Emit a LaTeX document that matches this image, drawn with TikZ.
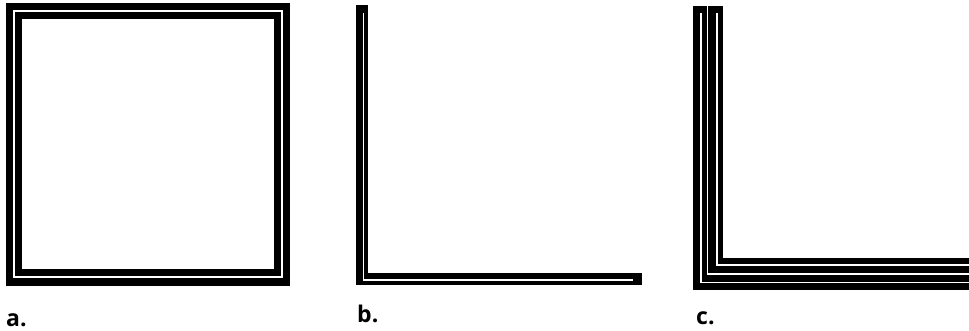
\documentclass[tikz,border=0pt]{standalone}
\usepackage{fontspec}
\setmainfont{Open Sans}
\begin{document}
\begin{tikzpicture}[x=1pt,y=-1pt,
  band/.style={draw=black,line width=#1,line join=miter,line cap=butt},
  band/.default=14.5pt,
  gapline/.style={draw=white,line width=1.8pt,line join=miter,line cap=butt},
  lbl/.style={anchor=base west,inner sep=0pt,font=\fontsize{23}{27}\selectfont\bfseries}]
\useasboundingbox (0,0) rectangle (969,331);
\fill[white] (0,0) rectangle (969,331);
% a: double square
\draw[band=16.5pt] (13.8,10.8) rectangle (282,277.3);
\draw[gapline] (13.8,10.8) rectangle (282,277.3);
% b: double L
\draw[band=12.5pt] (362,5) -- (362,279) -- (642,279);
\draw[gapline] (363.5,13) -- (363.5,280) -- (633,280);
% c: two nested double Ls
\draw[band] (700,6) -- (700,282.5) -- (975,282.5);
\draw[gapline] (701,13) -- (701,282.5) -- (975,282.5);
\draw[band] (715.5,6) -- (715.5,265.5) -- (975,265.5);
\draw[gapline] (717,13) -- (717,265) -- (975,265);
% labels
\node[lbl] (la) at (6,326) {a.};
\node[lbl] (lb) at (357,322) {b.};
\node[lbl] (lc) at (696,324) {c.};
\end{tikzpicture}
\end{document}
